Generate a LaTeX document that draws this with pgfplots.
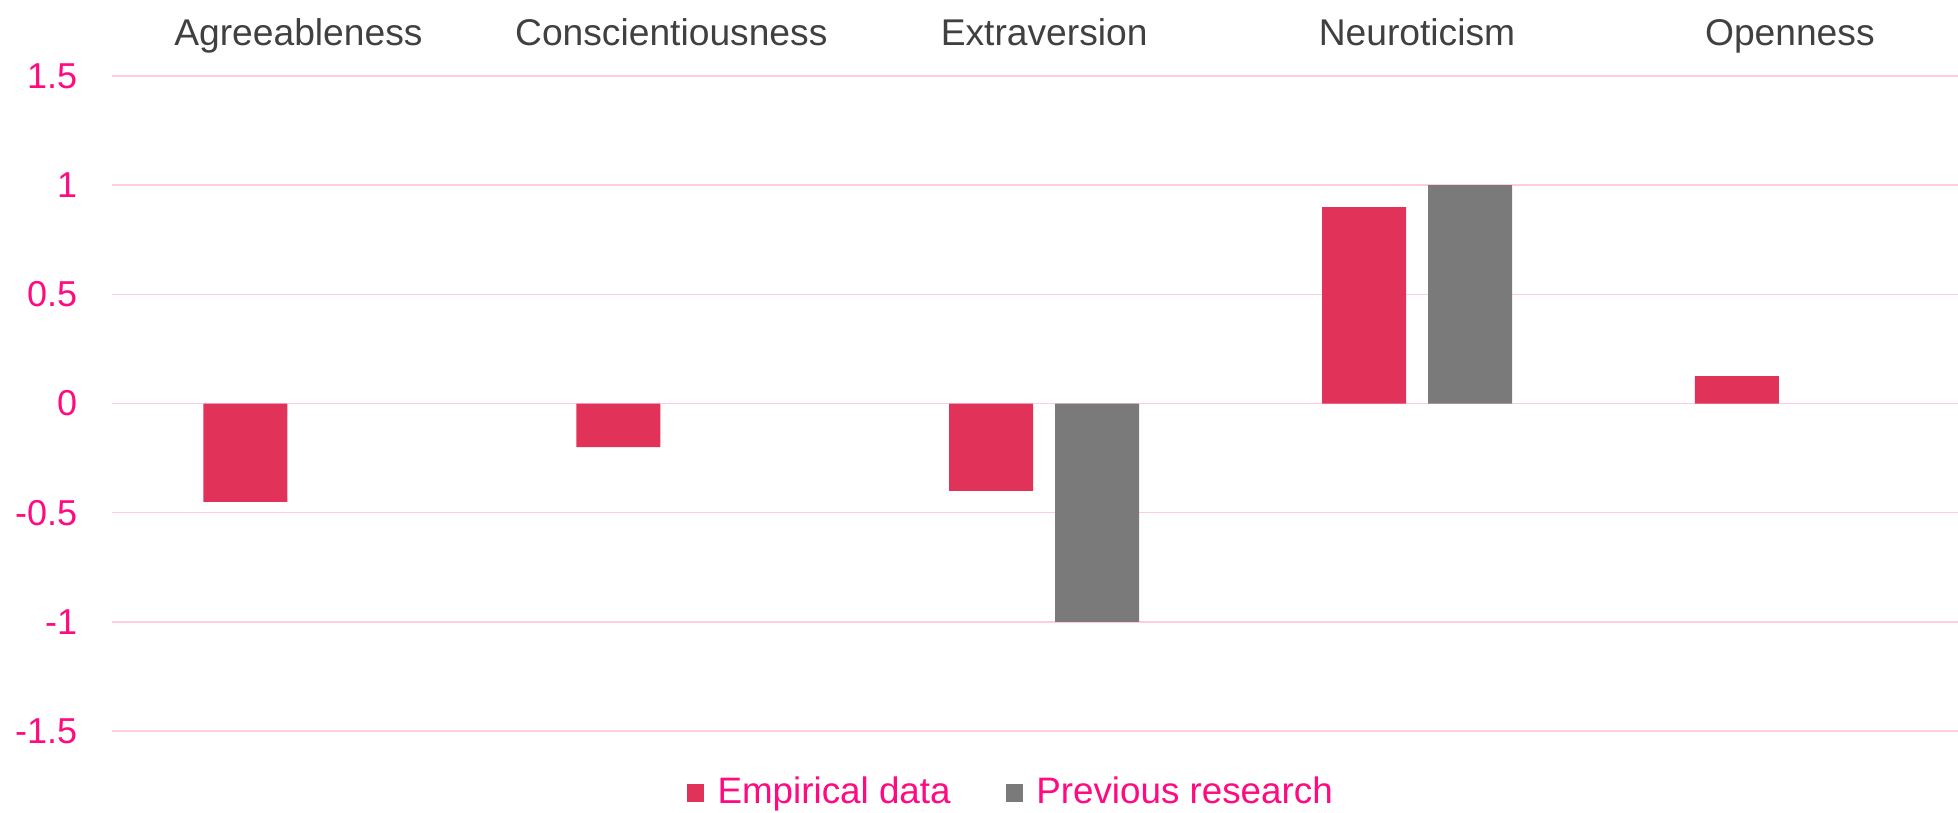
\documentclass[border=0pt]{standalone}
\usepackage{pgfplots}
\pgfplotsset{compat=1.18}
\usepackage{fontspec}
\setmainfont{Liberation Sans}

\definecolor{emp}{HTML}{E1335A}
\definecolor{prev}{HTML}{7A7A7A}
\definecolor{pinktxt}{HTML}{FF0A80}
\definecolor{gridpink}{HTML}{FFCCE4}
\definecolor{cattxt}{HTML}{404040}

\begin{document}
\begin{tikzpicture}[x=1pt,y=1pt]
\useasboundingbox (0,0) rectangle (489.5,-203.25);
\begin{axis}[
    at={(28pt,-182.75pt)}, anchor=south west,
    scale only axis,
    width=461.5pt, height=163.75pt,
    xmin=-0.5, xmax=4.451,
    ymin=-1.5, ymax=1.5,
    axis line style={draw=none},
    major tick length=0pt,
    ytick={-1.5,-1,-0.5,0,0.5,1,1.5},
    yticklabels={-1.5,-1,-0.5,0,0.5,1,1.5},
    ymajorgrids,
    grid style={gridpink, line width=0.4pt},
    xtick={0,1,2,3,4},
    xticklabels={Agreeableness,Conscientiousness,Extraversion,Neuroticism,Openness},
    xticklabel pos=upper,
    xticklabel style={font=\fontsize{9.3}{11}\selectfont, text=cattxt, anchor=base, yshift=7.75pt},
    yticklabel style={font=\fontsize{9}{11}\selectfont, text=pinktxt, anchor=east, inner sep=0pt, xshift=-8.5pt},
    ybar, bar width=21pt,
    legend columns=2,
    legend style={draw=none, fill=none, inner sep=0pt,
        at={(0.311,-0.0947)}, anchor=west,
        font=\fontsize{9.2}{11}\selectfont, text=pinktxt,
        /tikz/every odd column/.append style={column sep=1.4pt},
        /tikz/every even column/.append style={column sep=11.75pt}},
    legend image code/.code={\fill[#1] (0pt,-2.25pt) rectangle (4.25pt,2.25pt);},
]
% Empirical data
\addplot[fill=emp, draw=none, bar shift=-13.25pt] coordinates {
    (0,-0.45) (1,-0.2) (2,-0.4) (3,0.9) (4,0.125)
};
% Previous research
\addplot[fill=prev, draw=none, bar shift=13.25pt] coordinates {
    (2,-1) (3,1)
};
\legend{Empirical data, Previous research}
\end{axis}
\end{tikzpicture}
\end{document}
